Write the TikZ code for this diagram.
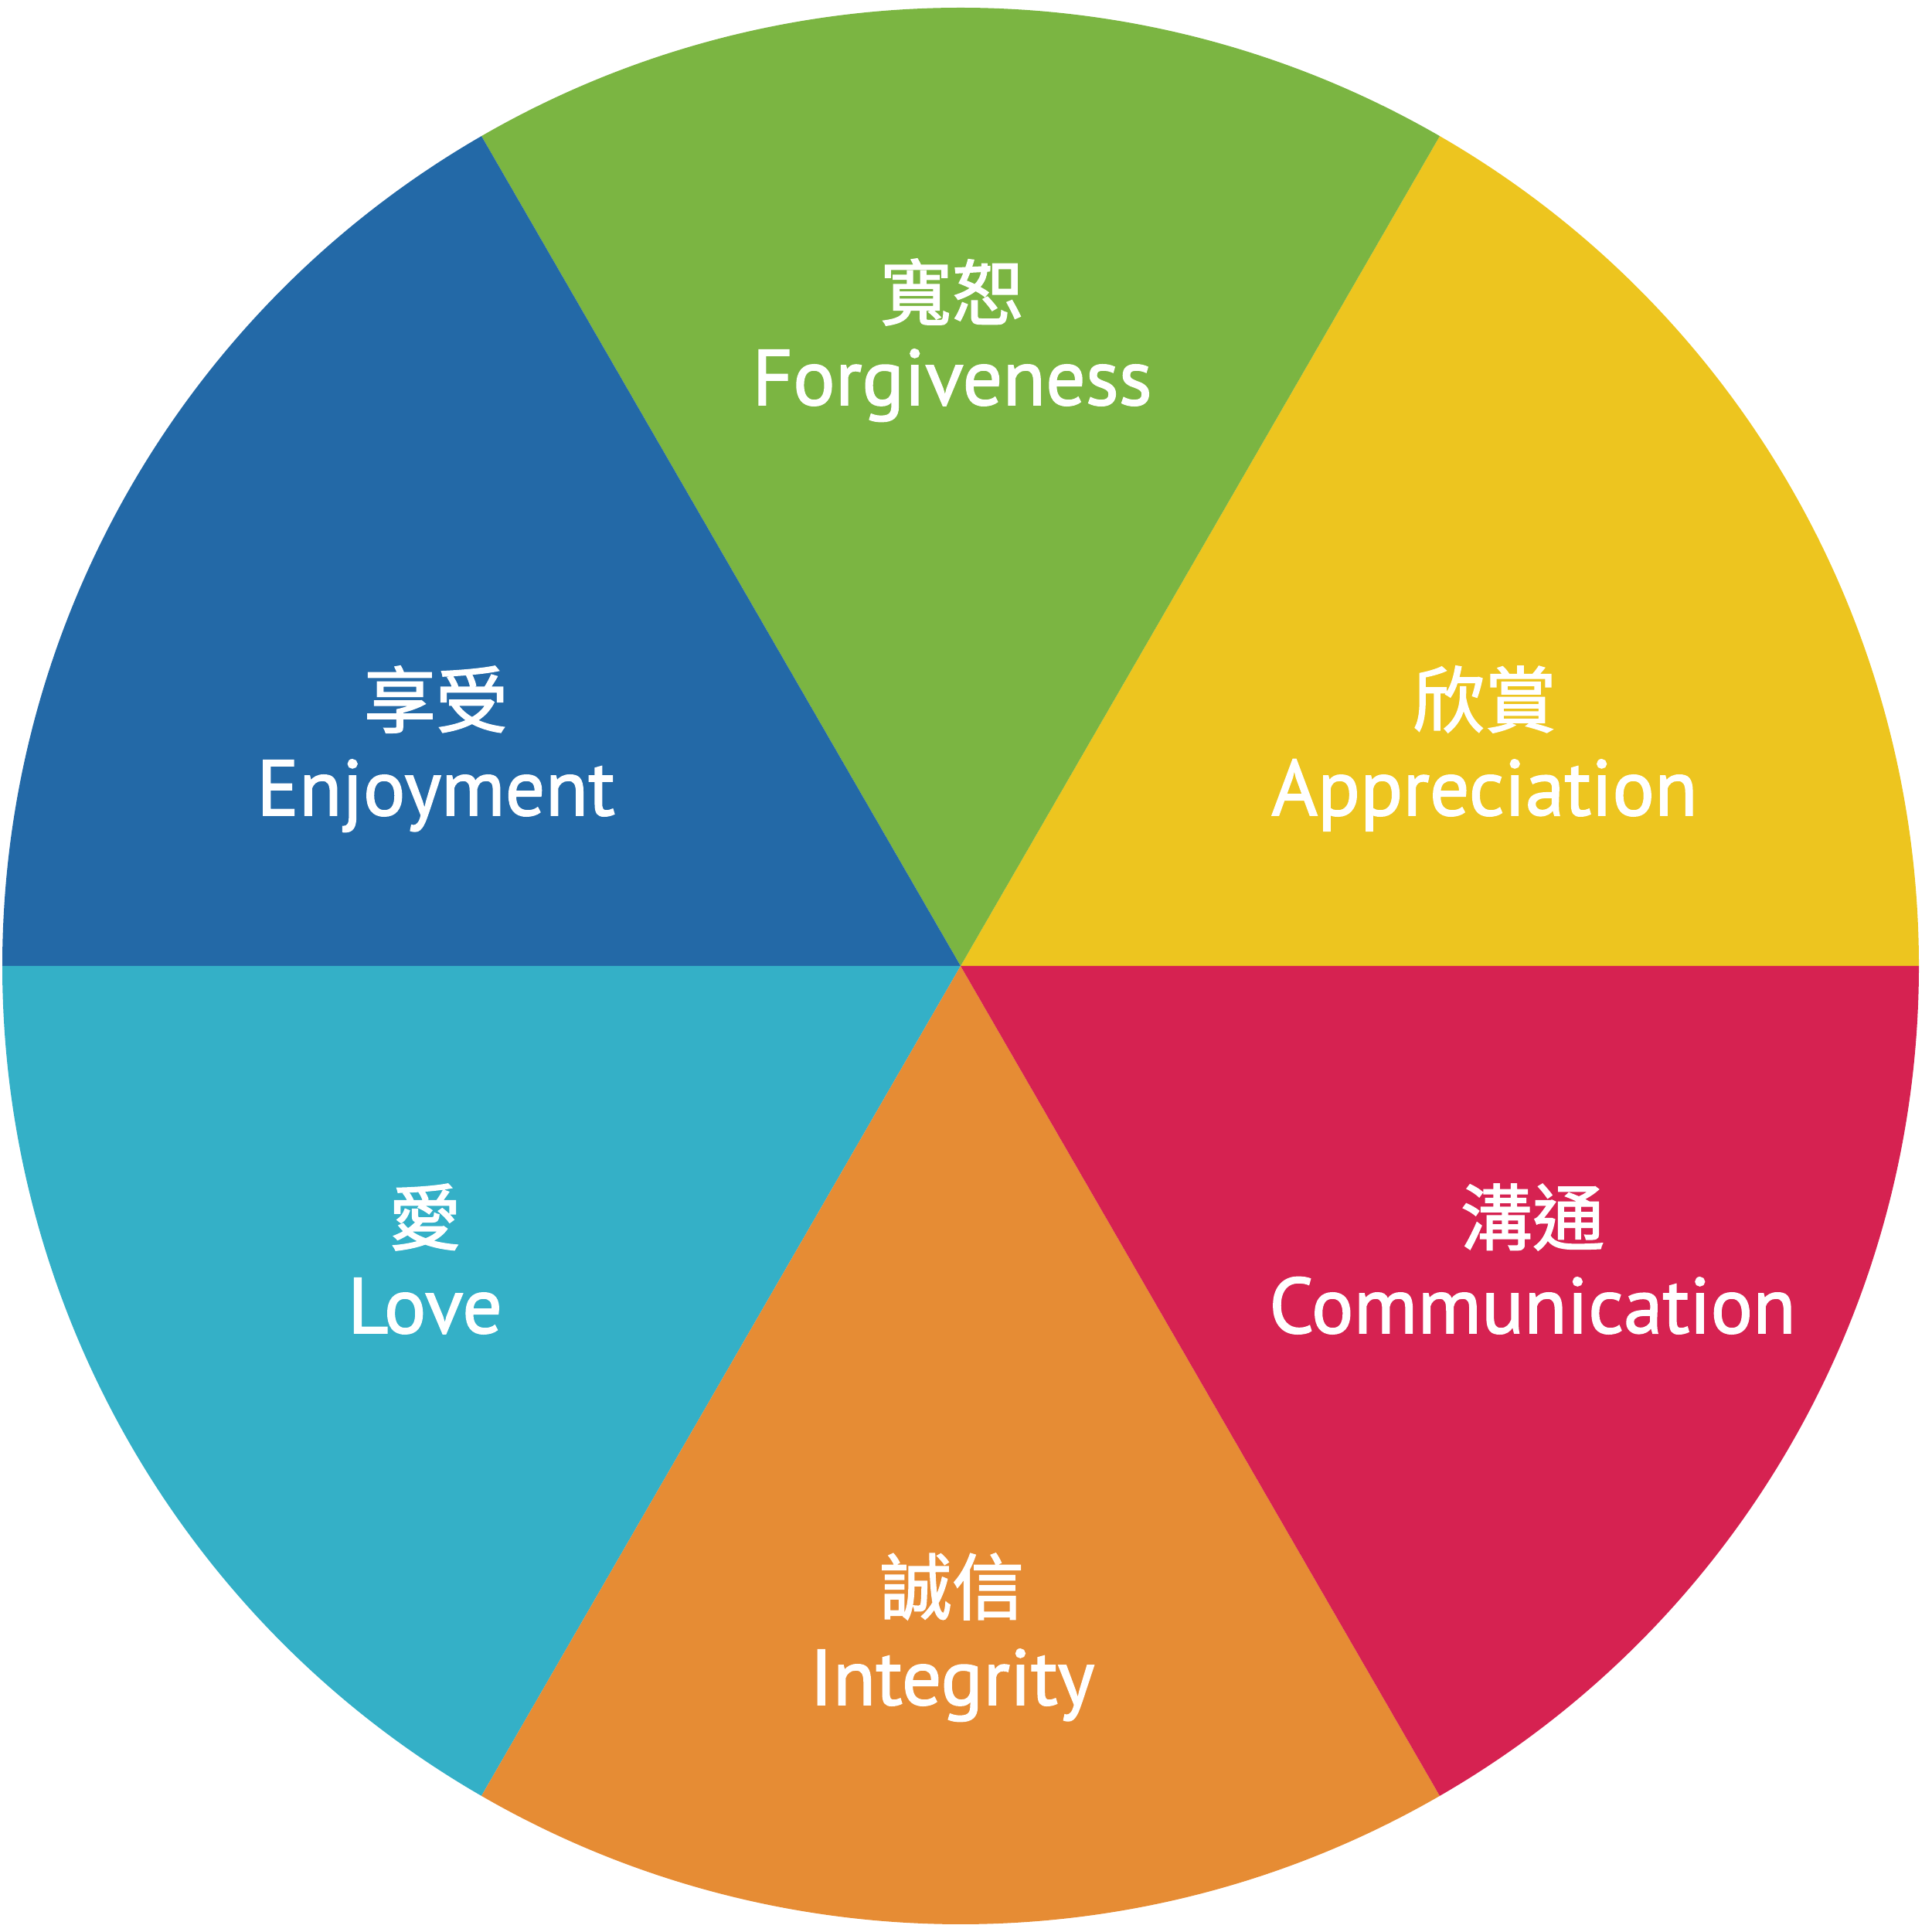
\documentclass[tikz,border=0pt]{standalone}
\usepackage{fontspec}
\setmainfont{PT Sans}
\newfontfamily\enfont[FakeBold=1.6]{PT Sans}
\newfontfamily\cjk[FakeBold=1.8]{Noto Sans CJK TC}
\definecolor{cgreen}{HTML}{7BB542}
\definecolor{cyellow}{HTML}{EDC51F}
\definecolor{cblue}{HTML}{2369A7}
\definecolor{ccyan}{HTML}{34B0C7}
\definecolor{corange}{HTML}{E68C34}
\definecolor{ccrimson}{HTML}{D62251}
\begin{document}
\begin{tikzpicture}
\useasboundingbox (0,0) rectangle (25,25);
\tikzset{
  en/.style={text=white, anchor=base, inner sep=0pt, font=\enfont\fontsize{29}{30}\selectfont},
  zh/.style={text=white, anchor=center, inner sep=0pt, font=\cjk\fontsize{26.5}{27}\selectfont},
}
\coordinate (C) at (12.43,12.50);
\def\R{12.40}
\foreach \a/\c in {0/cyellow,60/cgreen,120/cblue,180/ccyan,240/corange,300/ccrimson}{
  \fill[\c] (C) -- ++(\a:\R) arc[start angle=\a, end angle=\a+60, radius=\R] -- cycle;
}
\node[zh] (fz) at (12.32,21.22) {寬恕};
\node[en] (fe) at (12.32,19.76) {Forgiveness};
\node[zh] (jz) at (5.64,15.95) {享受};
\node[en] (je) at (5.64,14.45) {Enjoyment};
\node[zh] (az) at (19.21,15.95) {欣賞};
\node[en] (ae) at (19.21,14.45) {Appreciation};
\node[zh] (lz) at (5.50,9.25) {愛};
\node[en] (le) at (5.50,7.75) {Love};
\node[zh] (cz) at (19.83,9.25) {溝通};
\node[en] (ce) at (19.83,7.75) {Communication};
\node[zh] (iz) at (12.32,4.47) {誠信};
\node[en] (ie) at (12.32,2.94) {Integrity};
\end{tikzpicture}
\end{document}
